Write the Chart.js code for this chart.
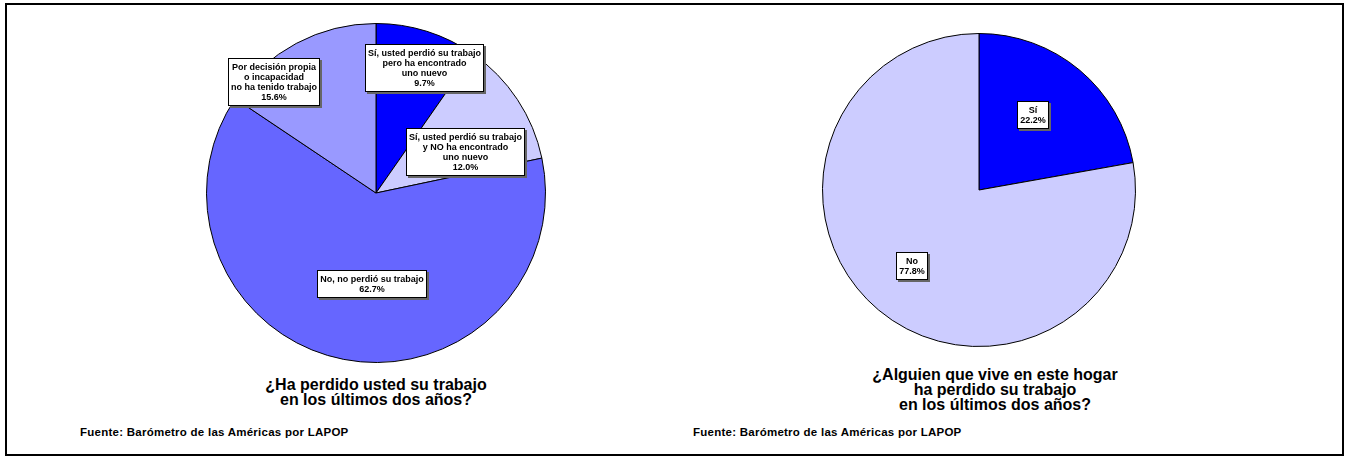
<!DOCTYPE html>
<html>
<head>
<meta charset="utf-8">
<script src="https://cdn.jsdelivr.net/npm/chart.js@4/dist/chart.umd.min.js"></script>
<style>
  body { margin: 0; width: 1346px; height: 458px; background: #fff; position: relative; overflow: hidden;
         font-family: "Liberation Sans", Arial, sans-serif; }
  .frame { position: absolute; left: 5px; top: 3px; width: 1335px; height: 449px; border: 2px solid #000; }
  .pie { position: absolute; }
  .title { position: absolute; font-weight: bold; font-size: 16px; line-height: 15px; text-align: center; color: #000; }
  .source { position: absolute; font-weight: bold; font-size: 11.5px; letter-spacing: 0.25px; color: #000; }
</style>
</head>
<body>
<div class="frame"></div>
<canvas id="pie1" class="pie" style="left:206px;top:23px;width:340px;height:340px"></canvas>
<canvas id="pie2" class="pie" style="left:822px;top:33px;width:314px;height:314px"></canvas>
<div class="title" style="left:176px;width:400px;top:377px">¿Ha perdido usted su trabajo<br>en los últimos dos años?</div>
<div class="title" style="left:795px;width:400px;top:367px">¿Alguien que vive en este hogar<br>ha perdido su trabajo<br>en los últimos dos años?</div>
<div class="source" style="left:80px;top:426px">Fuente: Barómetro de las Américas por LAPOP</div>
<div class="source" style="left:693px;top:426px">Fuente: Barómetro de las Américas por LAPOP</div>
<script>
// left pie
var jobLabels = [
  ['Sí, usted perdió su trabajo', 'pero ha encontrado', 'uno nuevo'],
  ['Sí, usted perdió su trabajo', 'y NO ha encontrado', 'uno nuevo'],
  ['No, no perdió su trabajo'],
  ['Por decisión propia', 'o incapacidad', 'no ha tenido trabajo']
];
var jobValues = [9.7, 12.0, 62.7, 15.6];
var jobColors = ['#0000ff', '#ccccff', '#6666ff', '#9999ff'];

// right pie
var homeLabels = [['Sí'], ['No']];
var homeValues = [22.2, 77.8];
var homeColors = ['#0000ff', '#ccccff'];

// where each label box sits: fraction of radius, angle shift (degrees) from slice middle
var jobPlacement = [{rf: 0.79, da: 3.8}, {rf: 0.58, da: 9}, {rf: 0.54, da: -8.2}, {rf: 0.89, da: -14.6}];
var homePlacement = [{rf: 0.59, da: -4.2}, {rf: 0.65, da: 1.4}];

var boxLabels = {
  id: 'boxLabels',
  afterDatasetsDraw: function(chart, args, opts) {
    var ctx = chart.ctx;
    var meta = chart.getDatasetMeta(0);
    var values = chart.data.datasets[0].data;
    ctx.save();
    ctx.font = 'bold 9px "Liberation Sans", Arial, sans-serif';
    ctx.textAlign = 'center';
    ctx.textBaseline = 'middle';
    meta.data.forEach(function(arc, i) {
      var p = arc.getProps(['x', 'y', 'startAngle', 'endAngle', 'outerRadius'], true);
      var place = opts.placement[i];
      var mid = (p.startAngle + p.endAngle) / 2 + place.da * Math.PI / 180;
      var cx = p.x + Math.cos(mid) * place.rf * p.outerRadius;
      var cy = p.y + Math.sin(mid) * place.rf * p.outerRadius;
      var lines = chart.data.labels[i].concat([values[i].toFixed(1) + '%']);
      var w = 0;
      lines.forEach(function(l) { w = Math.max(w, ctx.measureText(l).width); });
      var lh = 10;
      var bw = Math.round(w + 6), bh = lines.length * lh + 8;
      var bx = Math.round(cx - bw / 2), by = Math.round(cy - bh / 2);
      ctx.fillStyle = '#666';
      ctx.fillRect(bx + 2, by + 2, bw, bh);
      ctx.fillStyle = '#fff';
      ctx.fillRect(bx, by, bw, bh);
      ctx.strokeStyle = '#000';
      ctx.lineWidth = 1;
      ctx.strokeRect(bx + 0.5, by + 0.5, bw - 1, bh - 1);
      ctx.fillStyle = '#000';
      lines.forEach(function(l, k) {
        ctx.fillText(l, bx + bw / 2, by + 4 + lh * k + lh / 2 + 0.5);
      });
    });
    ctx.restore();
  }
};

function makePie(id, labels, values, colors, placement) {
  return new Chart(document.getElementById(id), {
    type: 'pie',
    data: {
      labels: labels,
      datasets: [{
        data: values,
        backgroundColor: colors,
        borderColor: '#000',
        borderWidth: 1
      }]
    },
    options: {
      responsive: false,
      animation: false,
      layout: { padding: 0 },
      plugins: {
        legend: { display: false },
        tooltip: { enabled: false },
        boxLabels: { placement: placement }
      }
    },
    plugins: [boxLabels]
  });
}

var c1 = document.getElementById('pie1'); c1.width = 340; c1.height = 340;
var c2 = document.getElementById('pie2'); c2.width = 314; c2.height = 314;
makePie('pie1', jobLabels, jobValues, jobColors, jobPlacement);
makePie('pie2', homeLabels, homeValues, homeColors, homePlacement);
</script>
</body>
</html>
